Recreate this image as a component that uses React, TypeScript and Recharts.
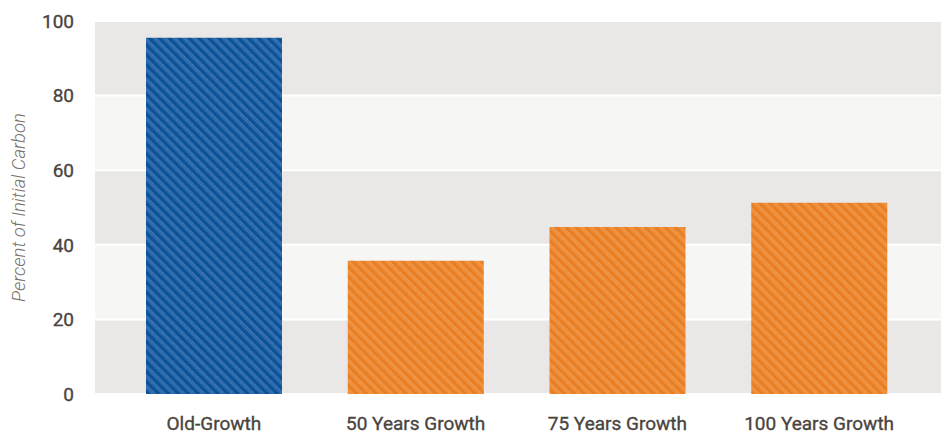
import { BarChart, Bar, XAxis, YAxis, CartesianGrid, Cell } from "recharts";

const categories = ["Old-Growth", "50 Years Growth", "75 Years Growth", "100 Years Growth"];
const carbonPercent = [95.5, 35.7, 44.8, 51.3];
const barPatterns = ["hatchBlue", "hatchOrange", "hatchOrange", "hatchOrange"];
const yTicks = [0, 20, 40, 60, 80, 100];

const data = categories.map((name, i) => ({ name, value: carbonPercent[i] }));

const FONT = 'Roboto, "Noto Sans", sans-serif';
const tickStyle = { fill: "#4a443d", stroke: "#4a443d", strokeWidth: 0.35, fontSize: 19, fontFamily: FONT };

// diagonal hatch fill, like the original print graphic
function Hatch({ id, base, light }: { id: string; base: string; light: string }) {
  return (
    <pattern id={id} width={7} height={7} patternUnits="userSpaceOnUse" patternTransform="rotate(45)">
      <rect width={7} height={7} fill={base} />
      <rect x={0} y={0} width={7} height={3.3} fill={light} />
      <line x1={0} y1={0.3} x2={7} y2={0.3} stroke="#ffffff" strokeOpacity={0.25} strokeWidth={0.6} strokeDasharray="1 1" />
      <line x1={0} y1={3} x2={7} y2={3} stroke="#ffffff" strokeOpacity={0.25} strokeWidth={0.6} strokeDasharray="1 1" />
    </pattern>
  );
}

export default function App() {
  return (
    <div style={{ position: "absolute", left: 0, top: 0, fontFamily: FONT }}>
      <BarChart width={941} height={436} data={data} margin={{ top: 21, right: 0, bottom: 12, left: 0 }}>
        <defs>
          <Hatch id="hatchBlue" base="#0a5399" light="#2d69aa" />
          <Hatch id="hatchOrange" base="#e97f22" light="#ed8f3c" />
        </defs>
        <CartesianGrid
          vertical={false}
          stroke="#ffffff"
          strokeWidth={2}
          horizontalFill={["#e9e8e6", "#f6f6f4"]}
          fillOpacity={1}
        />
        <XAxis
          dataKey="name"
          axisLine={false}
          tickLine={false}
          tickSize={0}
          tickMargin={23}
          padding={{ left: 18, right: 21 }}
          interval={0}
          tick={tickStyle}
        />
        <YAxis
          width={95}
          domain={[0, 100]}
          ticks={yTicks}
          axisLine={false}
          tickLine={false}
          tickSize={0}
          tickMargin={21}
          tick={tickStyle}
          label={{
            value: "Percent of Initial Carbon",
            angle: -90,
            position: "insideLeft",
            offset: 18,
            style: { fill: "#77726c", fontSize: 18.5, fontStyle: "italic", fontWeight: 300, fontFamily: FONT, textAnchor: "middle" },
          }}
        />
        <Bar dataKey="value" barSize={136} isAnimationActive={false}>
          {data.map((d, i) => (
            <Cell key={d.name} fill={`url(#${barPatterns[i]})`} />
          ))}
        </Bar>
      </BarChart>
    </div>
  );
}
